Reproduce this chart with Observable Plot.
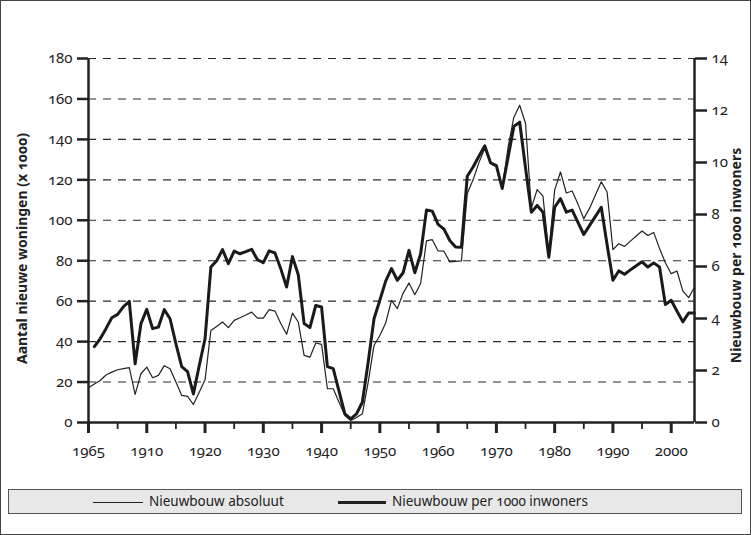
<!DOCTYPE html>
<html>
<head>
<meta charset="utf-8">
<script src="https://cdn.jsdelivr.net/npm/d3@7"></script>
<script src="https://cdn.jsdelivr.net/npm/@observablehq/plot@0.6"></script>
<style>
  body { margin: 0; background: #fff; font-family: "Noto Sans", Lato, sans-serif; }
  #frame { position: absolute; left: 0; top: 0; width: 751px; height: 535px; box-sizing: border-box; border: 1px solid #444; }
  #chart { position: absolute; left: 0; top: 0; }
  #legend { position: absolute; left: 8px; top: 489px; width: 734px; height: 25px; box-sizing: border-box;
            border: 1px solid #555; background: #e8e8e8; font-size: 13.5px; color: #222;
            font-variant-numeric: oldstyle-nums; font-feature-settings: "onum"; }
  .sw { position: absolute; top: 11px; width: 50px; background: #222; }
  .lab { position: absolute; top: 2px; line-height: 19px; white-space: nowrap; }
</style>
</head>
<body>
<div id="frame"></div>
<div id="chart"></div>
<div id="legend">
  <span class="sw" id="sw1" style="left:84px;height:1.3px;top:12px;"></span>
  <span class="lab" id="lab1" style="left:140px;">Nieuwbouw absoluut</span>
  <span class="sw" id="sw2" style="left:329px;height:3px;width:48px;"></span>
  <span class="lab" id="lab2" style="left:383px;">Nieuwbouw per 1000 inwoners</span>
</div>
<script>
const jaren = [
  1900,1901,1902,1903,1904,1905,1906,1907,1908,1909,
  1910,1911,1912,1913,1914,1915,1916,1917,1918,1919,
  1920,1921,1922,1923,1924,1925,1926,1927,1928,1929,
  1930,1931,1932,1933,1934,1935,1936,1937,1938,1939,
  1940,1941,1942,1943,1944,1945,1946,1947,1948,1949,
  1950,1951,1952,1953,1954,1955,1956,1957,1958,1959,
  1960,1961,1962,1963,1964,1965,1966,1967,1968,1969,
  1970,1971,1972,1973,1974,1975,1976,1977,1978,1979,
  1980,1981,1982,1983,1984,1985,1986,1987,1988,1989,
  1990,1991,1992,1993,1994,1995,1996,1997,1998,1999,
  2000,2001,2002,2003,2004
];
// Nieuwbouw absoluut (x 1000)
const absoluut = [
  17.2,19,20.8,23.5,24.9,26.1,26.6,27.1,13.9,24.1,
  27.4,22.1,23.3,28.1,26.6,20,13.4,12.9,8.9,15,
  21.1,45.5,47.5,49.7,46.9,50.5,51.8,53.2,54.6,51.6,
  51.6,55.8,55.1,49,43.6,54.1,49.7,33.2,32.3,39.3,
  38.6,16.7,16.7,10,3.5,1,2.5,4.3,20,38.1,
  43,49.2,60.4,56.3,64,69,63.2,68.7,89.8,90.4,
  84.8,84.7,79.4,79.7,79.9,113.2,120,128.5,135.5,128,
  126.5,115.7,136,151,156.9,148,106,115.2,111.9,83.5,
  114.9,123.9,113.5,114.5,108,100.8,106,112.5,119,114,
  85.5,88.4,87.1,89.7,92.2,94.7,92.5,94,86,79,
  73.6,74.9,65,61.7,67
];
// Nieuwbouw per 1000 inwoners
const perDuizend = [
  null,2.92,3.22,3.61,4.03,4.16,4.46,4.66,2.26,3.80,
  4.35,3.61,3.67,4.34,3.99,3.03,2.15,1.96,1.10,2.18,
  3.22,5.98,6.22,6.65,6.11,6.59,6.49,6.57,6.66,6.26,
  6.15,6.60,6.52,5.91,5.21,6.38,5.68,3.81,3.65,4.50,
  4.44,2.15,2.07,1.20,0.33,0.14,0.33,0.78,2.33,3.99,
  4.70,5.44,5.92,5.47,5.76,6.62,5.76,6.49,8.17,8.13,
  7.62,7.44,7.00,6.75,6.74,9.47,9.83,10.24,10.64,9.99,
  9.88,9.00,10.19,11.39,11.55,9.80,8.09,8.35,8.09,6.36,
  8.28,8.61,8.09,8.17,7.70,7.23,7.58,7.93,8.28,6.84,
  5.47,5.83,5.70,5.87,6.03,6.18,5.98,6.14,5.98,4.54,
  4.70,4.28,3.87,4.21,4.21
];
const linkerTicks = [0,20,40,60,80,100,120,140,160,180];
const rechterTicks = [0,2,4,6,8,10,12,14];
const jaarTicks = [1900,1910,1920,1930,1940,1950,1960,1970,1980,1990,2000];
const jaarLabels = ["1965","1910","1920","1930","1940","1950","1960","1970","1980","1990","2000"];
const tussenTicks = [1905,1915,1925,1935,1945,1955,1965,1975,1985,1995];
const titelLinks = "Aantal nieuwe woningen (x 1000)";
const titelRechts = "Nieuwbouw per 1000 inwoners";

const schaal = 180 / 14;
const rijen = jaren.map((j, i) => ({jaar: j, abs: absoluut[i], per: perDuizend[i]}));
const fv = "oldstyle-nums";

const plot = Plot.plot({
  width: 751, height: 470,
  marginLeft: 88, marginRight: 57, marginTop: 58, marginBottom: 48,
  x: {domain: [1900, 2004]},
  y: {domain: [0, 180]},
  style: {fontFamily: "'Noto Sans', Lato, sans-serif", fontSize: "15px", color: "#222", background: "transparent"},
  marks: [
    Plot.ruleY(linkerTicks.slice(1), {stroke: "#2a2a2a", strokeWidth: 1.1, strokeDasharray: "8,7"}),
    Plot.line(rijen, {x: "jaar", y: "abs", stroke: "#222", strokeWidth: 1.2}),
    Plot.line(rijen.filter(d => d.per != null), {x: "jaar", y: d => d.per * schaal, stroke: "#1a1a1a", strokeWidth: 3}),
    Plot.axisY(linkerTicks, {anchor: "left", tickSize: 11, tickPadding: 5, strokeWidth: 2.5, label: null, fontVariant: fv}),
    Plot.axisY(rechterTicks.map(v => v * schaal), {anchor: "right", tickSize: 12, tickPadding: 5, strokeWidth: 2.5,
      tickFormat: d => String(Math.round(d / schaal)), label: null, fontVariant: fv}),
    Plot.axisX(jaarTicks, {anchor: "bottom", tickSize: 11, tickPadding: 12, strokeWidth: 3,
      tickFormat: d => jaarLabels[jaarTicks.indexOf(d)], label: null, fontVariant: fv}),
    Plot.axisX(tussenTicks, {anchor: "bottom", tickSize: 7, strokeWidth: 1.8, tickFormat: () => "", label: null}),
    Plot.ruleX([1900, 2004], {y1: 0, y2: 180, stroke: "#222", strokeWidth: 2.5}),
    Plot.ruleY([0], {stroke: "#222", strokeWidth: 2.5}),
    Plot.text([titelLinks], {text: d => d, frameAnchor: "left", textAnchor: "middle", dx: -66, dy: 8, rotate: -90,
      fontWeight: "bold", fontSize: 14, fill: "#222", fontVariant: fv}),
    Plot.text([titelRechts], {text: d => d, frameAnchor: "right", textAnchor: "middle", dx: 42, dy: 15, rotate: -90,
      fontWeight: "bold", fontSize: 14, fill: "#222", fontVariant: fv})
  ]
});
document.getElementById("chart").appendChild(plot);
</script>
</body>
</html>
